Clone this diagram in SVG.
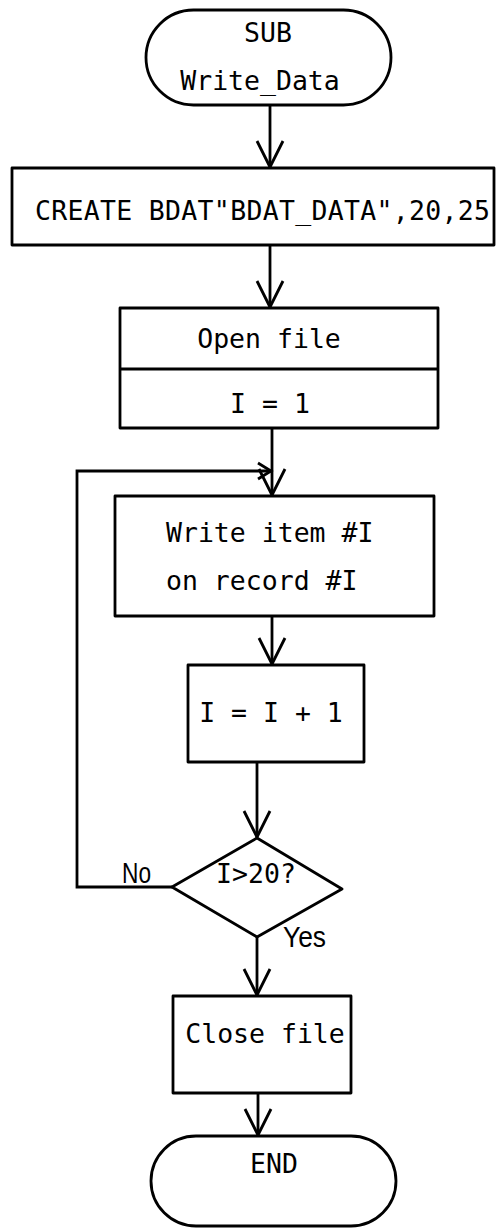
<svg xmlns="http://www.w3.org/2000/svg" width="496" height="1228" viewBox="0 0 496 1228">
  <style>
    .shape { fill: #fff; stroke: #000; stroke-width: 2.8; stroke-linejoin: round; }
    .wire { fill: none; stroke: #000; stroke-width: 2.8; }
    .code { font-family: "DejaVu Sans Mono", "Liberation Mono", monospace; font-size: 26.5px; fill: #000; }
    .lbl { font-family: "Liberation Sans", "DejaVu Sans", sans-serif; font-size: 29px; fill: #000; }
  </style>
  <defs>
    <marker id="vhead" markerUnits="userSpaceOnUse" markerWidth="40" markerHeight="40" viewBox="-30 -20 40 40" refX="0" refY="0" orient="auto" overflow="visible">
      <path d="M-26,-13 L0,0 L-26,13" fill="none" stroke="#000" stroke-width="2.8" stroke-linejoin="miter"/>
    </marker>
    <marker id="vsmall" markerUnits="userSpaceOnUse" markerWidth="30" markerHeight="30" viewBox="-20 -15 30 30" refX="0" refY="0" orient="auto" overflow="visible">
      <path d="M-13,-8 L0,0 L-13,8" fill="none" stroke="#000" stroke-width="2.8"/>
    </marker>
  </defs>

  <!-- connectors -->
  <g id="connectors" class="wire">
    <path d="M270,105 V167" marker-end="url(#vhead)"/>
    <path d="M270,245 V307" marker-end="url(#vhead)"/>
    <path d="M272,428 V495" marker-end="url(#vhead)"/>
    <path d="M272,616 V664" marker-end="url(#vhead)"/>
    <path d="M257,762 V837" marker-end="url(#vhead)"/>
    <path d="M257,937 V995" marker-end="url(#vhead)"/>
    <path d="M258,1093 V1135" marker-end="url(#vhead)"/>
    <!-- loop back from the decision -->
    <path d="M172,887 H77 V471 H271" marker-end="url(#vsmall)"/>
  </g>

  <g id="start">
    <rect class="shape" x="146" y="10" width="245" height="95" rx="47.5" ry="47.5"/>
    <text class="code" x="268" y="42" text-anchor="middle">SUB</text>
    <text class="code" x="260" y="90" text-anchor="middle">Write_Data</text>
  </g>

  <g id="create">
    <rect class="shape" x="12" y="168" width="482" height="77"/>
    <text class="code" x="35" y="220" textLength="455" lengthAdjust="spacing">CREATE BDAT"BDAT_DATA",20,25</text>
  </g>

  <g id="open">
    <rect class="shape" x="120" y="308" width="318" height="120"/>
    <line class="wire" x1="120" y1="369" x2="438" y2="369"/>
    <text class="code" x="269" y="348" text-anchor="middle">Open file</text>
    <text class="code" x="270" y="413" text-anchor="middle" xml:space="preserve">I = 1</text>
  </g>

  <g id="write">
    <rect class="shape" x="115" y="496" width="319" height="120"/>
    <text class="code" x="166" y="542">Write item #I</text>
    <text class="code" x="166" y="590">on record #I</text>
  </g>

  <g id="increment">
    <rect class="shape" x="188" y="665" width="176" height="97"/>
    <text class="code" x="271" y="722" text-anchor="middle" xml:space="preserve">I = I + 1</text>
  </g>

  <g id="decision">
    <polygon class="shape" points="257,838 342,889 257,937 172,887"/>
    <text class="code" x="256" y="883" text-anchor="middle">I&gt;20?</text>
    <text class="lbl" x="122" y="883" textLength="29" lengthAdjust="spacingAndGlyphs">No</text>
    <text class="lbl" x="283" y="947" textLength="43" lengthAdjust="spacingAndGlyphs">Yes</text>
  </g>

  <g id="close">
    <rect class="shape" x="173" y="996" width="178" height="97"/>
    <text class="code" x="265" y="1043" text-anchor="middle">Close file</text>
  </g>

  <g id="end">
    <rect class="shape" x="151" y="1136" width="245" height="90" rx="45" ry="45"/>
    <text class="code" x="274" y="1173" text-anchor="middle">END</text>
  </g>
</svg>
